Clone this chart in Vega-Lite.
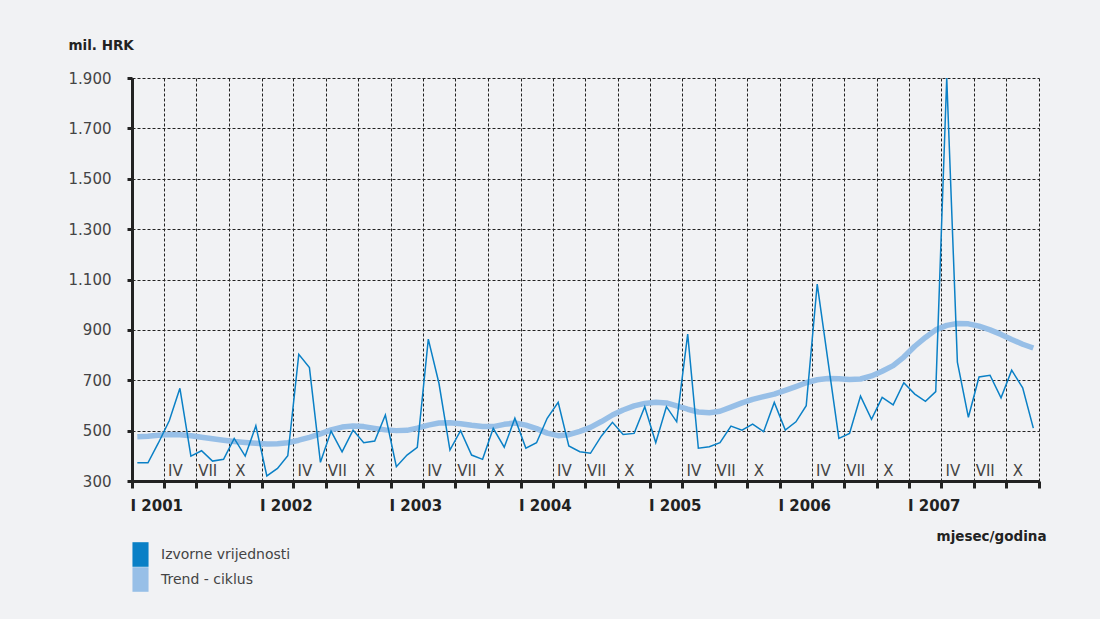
{
  "$schema": "https://vega.github.io/schema/vega-lite/v6.json",
  "autosize": {"type": "none"},
  "padding": {"left": 132, "top": 78, "right": 61, "bottom": 138},
  "width": 907,
  "height": 403,
  "background": "#f1f2f4",
  "config": {"view": {"stroke": null}, "font": "DejaVu Sans"},
  "data": {"values": [
    {"d":"2001-01-16","Izvorne vrijednosti":372,"Trend - ciklus":476},
    {"d":"2001-02-15","Izvorne vrijednosti":372,"Trend - ciklus":478},
    {"d":"2001-03-16","Izvorne vrijednosti":450,"Trend - ciklus":482},
    {"d":"2001-04-16","Izvorne vrijednosti":539,"Trend - ciklus":485},
    {"d":"2001-05-16","Izvorne vrijednosti":668,"Trend - ciklus":484},
    {"d":"2001-06-16","Izvorne vrijednosti":399,"Trend - ciklus":480},
    {"d":"2001-07-16","Izvorne vrijednosti":420,"Trend - ciklus":474},
    {"d":"2001-08-16","Izvorne vrijednosti":379,"Trend - ciklus":468},
    {"d":"2001-09-16","Izvorne vrijednosti":386,"Trend - ciklus":462},
    {"d":"2001-10-16","Izvorne vrijednosti":469,"Trend - ciklus":457},
    {"d":"2001-11-16","Izvorne vrijednosti":399,"Trend - ciklus":453},
    {"d":"2001-12-16","Izvorne vrijednosti":519,"Trend - ciklus":450},
    {"d":"2002-01-16","Izvorne vrijednosti":320,"Trend - ciklus":447},
    {"d":"2002-02-15","Izvorne vrijednosti":350,"Trend - ciklus":448},
    {"d":"2002-03-16","Izvorne vrijednosti":400,"Trend - ciklus":452},
    {"d":"2002-04-16","Izvorne vrijednosti":803,"Trend - ciklus":462},
    {"d":"2002-05-16","Izvorne vrijednosti":750,"Trend - ciklus":473},
    {"d":"2002-06-16","Izvorne vrijednosti":374,"Trend - ciklus":487},
    {"d":"2002-07-16","Izvorne vrijednosti":498,"Trend - ciklus":503},
    {"d":"2002-08-16","Izvorne vrijednosti":416,"Trend - ciklus":514},
    {"d":"2002-09-16","Izvorne vrijednosti":502,"Trend - ciklus":518},
    {"d":"2002-10-16","Izvorne vrijednosti":452,"Trend - ciklus":516},
    {"d":"2002-11-16","Izvorne vrijednosti":459,"Trend - ciklus":509},
    {"d":"2002-12-16","Izvorne vrijednosti":562,"Trend - ciklus":503},
    {"d":"2003-01-16","Izvorne vrijednosti":357,"Trend - ciklus":500},
    {"d":"2003-02-15","Izvorne vrijednosti":403,"Trend - ciklus":501},
    {"d":"2003-03-16","Izvorne vrijednosti":434,"Trend - ciklus":510},
    {"d":"2003-04-16","Izvorne vrijednosti":863,"Trend - ciklus":522},
    {"d":"2003-05-16","Izvorne vrijednosti":688,"Trend - ciklus":530},
    {"d":"2003-06-16","Izvorne vrijednosti":423,"Trend - ciklus":531},
    {"d":"2003-07-16","Izvorne vrijednosti":500,"Trend - ciklus":527},
    {"d":"2003-08-16","Izvorne vrijednosti":403,"Trend - ciklus":521},
    {"d":"2003-09-16","Izvorne vrijednosti":386,"Trend - ciklus":516},
    {"d":"2003-10-16","Izvorne vrijednosti":509,"Trend - ciklus":516},
    {"d":"2003-11-16","Izvorne vrijednosti":434,"Trend - ciklus":525},
    {"d":"2003-12-16","Izvorne vrijednosti":549,"Trend - ciklus":530},
    {"d":"2004-01-16","Izvorne vrijednosti":430,"Trend - ciklus":522},
    {"d":"2004-02-15","Izvorne vrijednosti":452,"Trend - ciklus":508},
    {"d":"2004-03-16","Izvorne vrijednosti":549,"Trend - ciklus":490},
    {"d":"2004-04-16","Izvorne vrijednosti":612,"Trend - ciklus":480},
    {"d":"2004-05-16","Izvorne vrijednosti":439,"Trend - ciklus":484},
    {"d":"2004-06-16","Izvorne vrijednosti":416,"Trend - ciklus":497},
    {"d":"2004-07-16","Izvorne vrijednosti":410,"Trend - ciklus":513},
    {"d":"2004-08-16","Izvorne vrijednosti":479,"Trend - ciklus":536},
    {"d":"2004-09-16","Izvorne vrijednosti":533,"Trend - ciklus":562},
    {"d":"2004-10-16","Izvorne vrijednosti":485,"Trend - ciklus":582},
    {"d":"2004-11-16","Izvorne vrijednosti":489,"Trend - ciklus":598},
    {"d":"2004-12-16","Izvorne vrijednosti":595,"Trend - ciklus":608},
    {"d":"2005-01-16","Izvorne vrijednosti":452,"Trend - ciklus":613},
    {"d":"2005-02-15","Izvorne vrijednosti":595,"Trend - ciklus":610},
    {"d":"2005-03-16","Izvorne vrijednosti":535,"Trend - ciklus":598},
    {"d":"2005-04-16","Izvorne vrijednosti":883,"Trend - ciklus":585},
    {"d":"2005-05-16","Izvorne vrijednosti":430,"Trend - ciklus":574},
    {"d":"2005-06-16","Izvorne vrijednosti":436,"Trend - ciklus":571},
    {"d":"2005-07-16","Izvorne vrijednosti":452,"Trend - ciklus":577},
    {"d":"2005-08-16","Izvorne vrijednosti":518,"Trend - ciklus":593},
    {"d":"2005-09-16","Izvorne vrijednosti":502,"Trend - ciklus":610},
    {"d":"2005-10-16","Izvorne vrijednosti":526,"Trend - ciklus":624},
    {"d":"2005-11-16","Izvorne vrijednosti":496,"Trend - ciklus":635},
    {"d":"2005-12-16","Izvorne vrijednosti":612,"Trend - ciklus":645},
    {"d":"2006-01-16","Izvorne vrijednosti":502,"Trend - ciklus":660},
    {"d":"2006-02-15","Izvorne vrijednosti":535,"Trend - ciklus":675},
    {"d":"2006-03-16","Izvorne vrijednosti":599,"Trend - ciklus":690},
    {"d":"2006-04-16","Izvorne vrijednosti":1082,"Trend - ciklus":702},
    {"d":"2006-05-16","Izvorne vrijednosti":780,"Trend - ciklus":707},
    {"d":"2006-06-16","Izvorne vrijednosti":469,"Trend - ciklus":706},
    {"d":"2006-07-16","Izvorne vrijednosti":489,"Trend - ciklus":703},
    {"d":"2006-08-16","Izvorne vrijednosti":637,"Trend - ciklus":705},
    {"d":"2006-09-16","Izvorne vrijednosti":545,"Trend - ciklus":717},
    {"d":"2006-10-16","Izvorne vrijednosti":632,"Trend - ciklus":736},
    {"d":"2006-11-16","Izvorne vrijednosti":602,"Trend - ciklus":758},
    {"d":"2006-12-16","Izvorne vrijednosti":690,"Trend - ciklus":792},
    {"d":"2007-01-16","Izvorne vrijednosti":645,"Trend - ciklus":835},
    {"d":"2007-02-15","Izvorne vrijednosti":616,"Trend - ciklus":870},
    {"d":"2007-03-16","Izvorne vrijednosti":655,"Trend - ciklus":900},
    {"d":"2007-04-16","Izvorne vrijednosti":1900,"Trend - ciklus":918},
    {"d":"2007-05-16","Izvorne vrijednosti":772,"Trend - ciklus":925},
    {"d":"2007-06-16","Izvorne vrijednosti":553,"Trend - ciklus":924},
    {"d":"2007-07-16","Izvorne vrijednosti":713,"Trend - ciklus":915},
    {"d":"2007-08-16","Izvorne vrijednosti":720,"Trend - ciklus":900},
    {"d":"2007-09-16","Izvorne vrijednosti":630,"Trend - ciklus":882},
    {"d":"2007-10-16","Izvorne vrijednosti":740,"Trend - ciklus":862},
    {"d":"2007-11-16","Izvorne vrijednosti":670,"Trend - ciklus":843},
    {"d":"2007-12-16","Izvorne vrijednosti":510,"Trend - ciklus":828}
  ]},
  "transform": [
    {"fold": ["Izvorne vrijednosti", "Trend - ciklus"], "as": ["series", "value"]}
  ],
  "encoding": {
    "y": {
      "field": "value", "type": "quantitative",
      "scale": {"domain": [300, 1900], "zero": false, "nice": false},
      "axis": {
        "values": [300, 500, 700, 900, 1100, 1300, 1500, 1700, 1900],
        "grid": true, "gridColor": "#222", "gridDash": [3, 2], "gridWidth": 1, "gridOpacity": 1,
        "domain": true, "domainColor": "#222", "domainWidth": 3,
        "ticks": true, "tickColor": "#222", "tickWidth": 3, "tickSize": 5,
        "labelExpr": "replace(format(datum.value, ','), ',', '.')",
        "labelFont": "DejaVu Sans", "labelFontSize": 15, "labelFontWeight": "normal", "labelColor": "#444", "labelPadding": 16,
        "title": "mil. HRK", "titleFont": "DejaVu Sans", "titleFontWeight": "bold", "titleFontSize": 13.5, "titleColor": "#222",
        "titleAngle": 0, "titleAlign": "left", "titleAnchor": "start", "titleX": -64, "titleY": -29, "titleBaseline": "alphabetic"
      }
    },
    "color": {
      "field": "series", "type": "nominal",
      "scale": {"domain": ["Izvorne vrijednosti", "Trend - ciklus"], "range": ["#0a80c6", "#97bfe7"]},
      "legend": {
        "orient": "none", "legendX": -3, "legendY": 465, "title": null, "padding": 0,
        "symbolType": "M-0.72,-1.1H0.72V1.1H-0.72Z", "symbolSize": 500, "symbolStrokeWidth": 0,
        "rowPadding": 0, "labelOffset": 9,
        "labelFont": "DejaVu Sans", "labelFontSize": 14, "labelColor": "#444",
        "encode": {"symbols": {"update": {"fill": {"scale": "color", "field": "value"}, "fillOpacity": {"value": 1}, "strokeWidth": {"value": 0}, "size": {"value": 500}, "shape": {"value": "M-0.72,-1.1H0.72V1.1H-0.72Z"}}}}
      }
    }
  },
  "resolve": {"axis": {"x": "independent"}},
  "layer": [
    {
      "transform": [{"filter": "datum.series == 'Trend - ciklus'"}],
      "mark": {"type": "line", "strokeWidth": 5.5, "strokeCap": "butt", "strokeJoin": "round"},
      "encoding": {
        "x": {
          "field": "d", "type": "temporal",
          "scale": {"domain": [{"year": 2001, "month": 1, "date": 1}, {"year": 2008, "month": 1, "date": 1}]},
          "axis": {
            "orient": "bottom",
            "values": [
              {"year": 2001, "month": 1, "date": 1}, {"year": 2001, "month": 4, "date": 1}, {"year": 2001, "month": 7, "date": 1}, {"year": 2001, "month": 10, "date": 1},
              {"year": 2002, "month": 1, "date": 1}, {"year": 2002, "month": 4, "date": 1}, {"year": 2002, "month": 7, "date": 1}, {"year": 2002, "month": 10, "date": 1},
              {"year": 2003, "month": 1, "date": 1}, {"year": 2003, "month": 4, "date": 1}, {"year": 2003, "month": 7, "date": 1}, {"year": 2003, "month": 10, "date": 1},
              {"year": 2004, "month": 1, "date": 1}, {"year": 2004, "month": 4, "date": 1}, {"year": 2004, "month": 7, "date": 1}, {"year": 2004, "month": 10, "date": 1},
              {"year": 2005, "month": 1, "date": 1}, {"year": 2005, "month": 4, "date": 1}, {"year": 2005, "month": 7, "date": 1}, {"year": 2005, "month": 10, "date": 1},
              {"year": 2006, "month": 1, "date": 1}, {"year": 2006, "month": 4, "date": 1}, {"year": 2006, "month": 7, "date": 1}, {"year": 2006, "month": 10, "date": 1},
              {"year": 2007, "month": 1, "date": 1}, {"year": 2007, "month": 4, "date": 1}, {"year": 2007, "month": 7, "date": 1}, {"year": 2007, "month": 10, "date": 1},
              {"year": 2008, "month": 1, "date": 1}
            ],
            "grid": true, "gridColor": "#222", "gridDash": [3, 2], "gridWidth": 1, "gridOpacity": 1,
            "domain": true, "domainColor": "#222", "domainWidth": 3,
            "ticks": true, "tickColor": "#222", "tickWidth": 3, "tickSize": 7,
            "labelExpr": "month(datum.value) == 0 && year(datum.value) < 2008 ? 'I ' + year(datum.value) : ''",
            "labelAlign": "left", "labelOffset": -2, "labelPadding": 10, "labelBaseline": "top",
            "labelFont": "DejaVu Sans", "labelFontWeight": "bold", "labelFontSize": 15, "labelColor": "#222",
            "labelOverlap": false, "labelFlush": false, "labelBound": false,
            "title": "mjesec/godina", "titleFont": "DejaVu Sans", "titleFontWeight": "bold", "titleFontSize": 13.5, "titleColor": "#222",
            "titleAlign": "right", "titleAnchor": "start", "titleX": 914, "titleY": 59, "titleBaseline": "alphabetic"
          }
        }
      }
    },
    {
      "transform": [{"filter": "datum.series == 'Izvorne vrijednosti'"}],
      "mark": {"type": "line", "strokeWidth": 1.5, "strokeJoin": "miter"},
      "encoding": {
        "x": {
          "field": "d", "type": "temporal",
          "axis": {
            "orient": "bottom",
            "values": [
              {"year": 2001, "month": 4, "date": 1}, {"year": 2001, "month": 7, "date": 1}, {"year": 2001, "month": 10, "date": 1},
              {"year": 2002, "month": 4, "date": 1}, {"year": 2002, "month": 7, "date": 1}, {"year": 2002, "month": 10, "date": 1},
              {"year": 2003, "month": 4, "date": 1}, {"year": 2003, "month": 7, "date": 1}, {"year": 2003, "month": 10, "date": 1},
              {"year": 2004, "month": 4, "date": 1}, {"year": 2004, "month": 7, "date": 1}, {"year": 2004, "month": 10, "date": 1},
              {"year": 2005, "month": 4, "date": 1}, {"year": 2005, "month": 7, "date": 1}, {"year": 2005, "month": 10, "date": 1},
              {"year": 2006, "month": 4, "date": 1}, {"year": 2006, "month": 7, "date": 1}, {"year": 2006, "month": 10, "date": 1},
              {"year": 2007, "month": 4, "date": 1}, {"year": 2007, "month": 7, "date": 1}, {"year": 2007, "month": 10, "date": 1}
            ],
            "grid": false, "domain": false, "ticks": false, "tickSize": 0,
            "labelExpr": "month(datum.value) == 3 ? 'IV' : month(datum.value) == 6 ? 'VII' : month(datum.value) == 9 ? 'X' : ''",
            "labelAlign": "center", "labelOffset": 11, "labelPadding": -6, "labelBaseline": "alphabetic",
            "labelFont": "DejaVu Sans", "labelFontSize": 15, "labelColor": "#444",
            "labelOverlap": false, "labelFlush": false, "labelBound": false,
            "title": null
          }
        }
      }
    }
  ]
}
